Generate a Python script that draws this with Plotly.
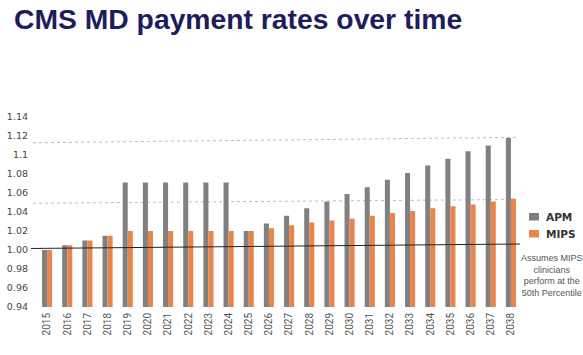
import plotly.graph_objects as go

# ---- data ----
years = ["2015", "2016", "2017", "2018", "2019", "2020", "2021", "2022", "2023", "2024",
         "2025", "2026", "2027", "2028", "2029", "2030", "2031", "2032", "2033", "2034",
         "2035", "2036", "2037", "2038"]
apm = [1.000, 1.005, 1.010, 1.015, 1.071, 1.071, 1.071, 1.071, 1.071, 1.071,
       1.020, 1.028, 1.036, 1.044, 1.051, 1.059, 1.066, 1.074, 1.081, 1.089,
       1.096, 1.104, 1.110, 1.118]
mips = [1.000, 1.005, 1.010, 1.015, 1.020, 1.020, 1.020, 1.020, 1.020, 1.020,
        1.020, 1.023, 1.026, 1.029, 1.031, 1.033, 1.036, 1.039, 1.041, 1.044,
        1.046, 1.048, 1.051, 1.054]
series_names = ["APM", "MIPS"]
y_tick_vals = [0.94, 0.96, 0.98, 1.00, 1.02, 1.04, 1.06, 1.08, 1.10, 1.12, 1.14]
y_tick_text = ["0.94", "0.96", "0.98", "1.00", "1.02", "1.04", "1.06", "1.08", "1.1", "1.12", "1.14"]
baseline_line = [1.0016, 1.0063]      # black reference line (left, right)
apm_ref_line = [1.1129, 1.1186]       # dashed line (left, right)
mips_ref_line = [1.0492, 1.0532]      # dashed line (left, right)
title_text = "CMS MD payment rates over time"
note_text = "Assumes MIPS<br>clinicians<br>perform at the<br>50th Percentile"

GRAY = "#808080"
ORANGE = "#E9844A"

W, H = 583, 355
# plot area in pixels: x 37..521, y 117..307
PL, PW, PT, PH = 37, 484, 117, 190
PB = PT + PH


def px(x):
    return (x - PL) / PW


def py(y):
    return (PB - y) / PH


fig = go.Figure()
fig.add_trace(go.Bar(x=years, y=apm, name=series_names[0], marker_color=GRAY,
                     marker_line_width=0))
fig.add_trace(go.Bar(x=years, y=mips, name=series_names[1], marker_color=ORANGE,
                     marker_line_width=0))

shapes = [
    dict(type="line", xref="paper", yref="y", x0=px(33), x1=px(517),
         y0=apm_ref_line[0], y1=apm_ref_line[1], layer="below",
         line=dict(color="#BDBDBD", width=1, dash="3px,3px")),
    dict(type="line", xref="paper", yref="y", x0=px(33), x1=px(517),
         y0=mips_ref_line[0], y1=mips_ref_line[1], layer="below",
         line=dict(color="#BDBDBD", width=1, dash="3px,3px")),
    dict(type="line", xref="paper", yref="y", x0=px(31), x1=px(520),
         y0=baseline_line[0], y1=baseline_line[1], layer="above",
         line=dict(color="#222222", width=1)),
    # legend swatches
    dict(type="rect", xref="paper", yref="paper", layer="above",
         x0=px(529), x1=px(539), y0=py(220.5), y1=py(213),
         fillcolor=GRAY, line_width=0),
    dict(type="rect", xref="paper", yref="paper", layer="above",
         x0=px(529), x1=px(539), y0=py(237.5), y1=py(230),
         fillcolor=ORANGE, line_width=0),
]

annotations = [
    dict(text=f"<b>{title_text}</b>", xref="paper", yref="paper",
         x=px(12), y=py(18.5), xanchor="left", yanchor="middle",
         showarrow=False, font=dict(family="Liberation Sans, Arial", size=28.3, color="#1D1D5E")),
    dict(text=f"<b>{series_names[0]}</b>", xref="paper", yref="paper",
         x=px(544), y=py(216.5), xanchor="left", yanchor="middle",
         showarrow=False, font=dict(family="DejaVu Sans", size=10.5, color="#333333")),
    dict(text=f"<b>{series_names[1]}</b>", xref="paper", yref="paper",
         x=px(544), y=py(233.5), xanchor="left", yanchor="middle",
         showarrow=False, font=dict(family="DejaVu Sans", size=10.5, color="#333333")),
    dict(text=note_text, xref="paper", yref="paper",
         x=px(552), y=py(275), xanchor="center", yanchor="middle",
         align="center", showarrow=False,
         font=dict(family="Liberation Sans Narrow, Liberation Sans", size=9, color="#555555")),
]

fig.update_layout(
    width=W, height=H,
    margin=dict(l=PL, r=W - PL - PW, t=PT, b=H - PB, pad=0, autoexpand=False),
    paper_bgcolor="white", plot_bgcolor="white",
    barmode="group", bargap=0.5, bargroupgap=0,
    showlegend=False,
    shapes=shapes, annotations=annotations,
    xaxis=dict(type="category", tickangle=-90, showgrid=False, showline=False,
               zeroline=False, ticks="", ticklabelstandoff=3, automargin=False,
               tickfont=dict(family="Roboto", size=10, color="#555555")),
    yaxis=dict(range=[0.94, 1.14], tickvals=y_tick_vals, ticktext=y_tick_text,
               showgrid=False, showline=False, zeroline=False, ticks="",
               ticklabelstandoff=8, automargin=False,
               tickfont=dict(family="DejaVu Sans", size=9.5, color="#444444")),
)

fig.write_html("out.html", config={"displayModeBar": False},
               post_script="document.body.style.margin='0';")
